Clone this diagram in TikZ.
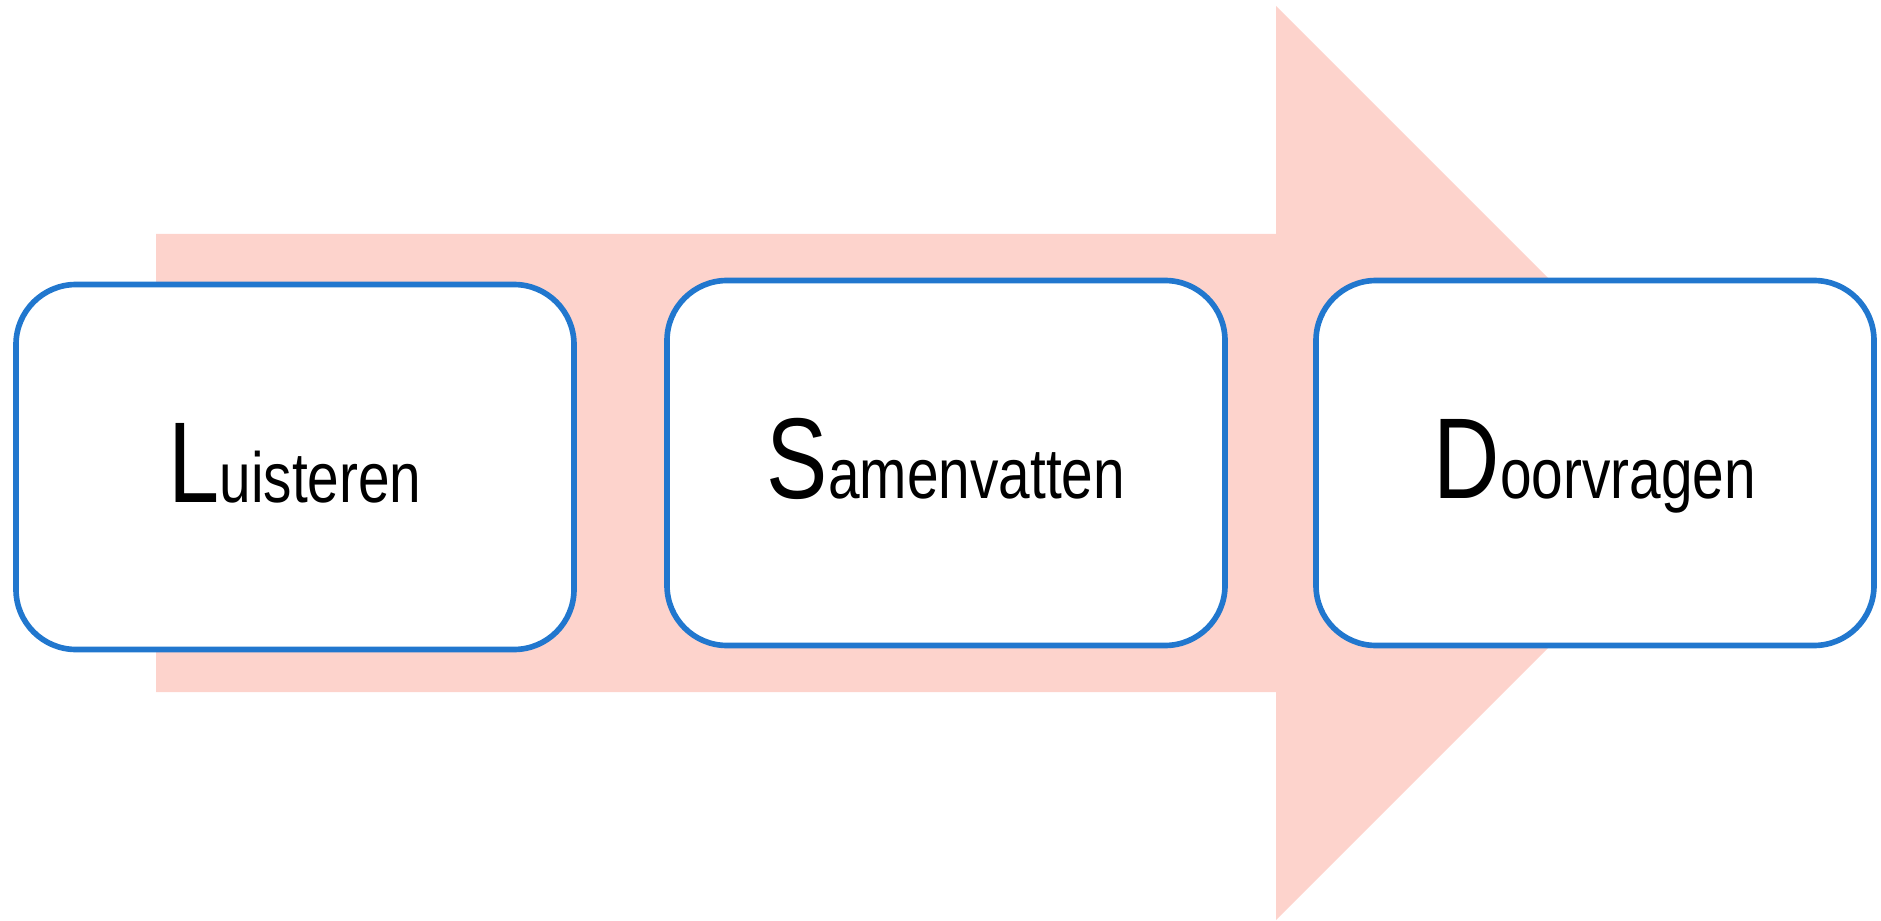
\documentclass[tikz,border=0pt]{standalone}
\usepackage{fontspec}
\usepackage{tikz}
\usetikzlibrary{shapes,arrows, positioning}
\newfontfamily\stepfont{Liberation Sans}[FakeStretch=0.8]
\newcommand{\firstletter}[1]{{\fontsize{32.7}{34}\selectfont #1}}
\definecolor{arrowpink}{RGB}{253,211,204}
\definecolor{boxblue}{RGB}{33,119,206}
\tikzstyle{stepbox} = [rectangle, draw=boxblue, line width=1.6pt, fill=white, rounded corners=0.6cm, minimum width=5.58cm, minimum height=3.65cm, text height=0.71cm, text depth=0cm, inner sep=0pt, font=\stepfont\fontsize{20.2}{22}\selectfont]

\begin{document}
\begin{tikzpicture}
			\useasboundingbox (0,0) rectangle (18.81,9.20);
			% big arrow in the back
			\fill [arrowpink] (1.56,6.86) -- (12.76,6.86) -- (12.76,9.14) -- (17.33,4.57) -- (12.76,0) -- (12.76,2.28) -- (1.56,2.28) -- cycle;
			
			\node [stepbox] (luisteren) at (2.95,4.53) {\firstletter{L}uisteren};
			\node [stepbox] (samenvatten) at (9.46,4.57) {\firstletter{S}amenvatten};
			\node [stepbox] (doorvragen) at (15.95,4.57) {\firstletter{D}oorvragen};
		\end{tikzpicture}
\end{document}
